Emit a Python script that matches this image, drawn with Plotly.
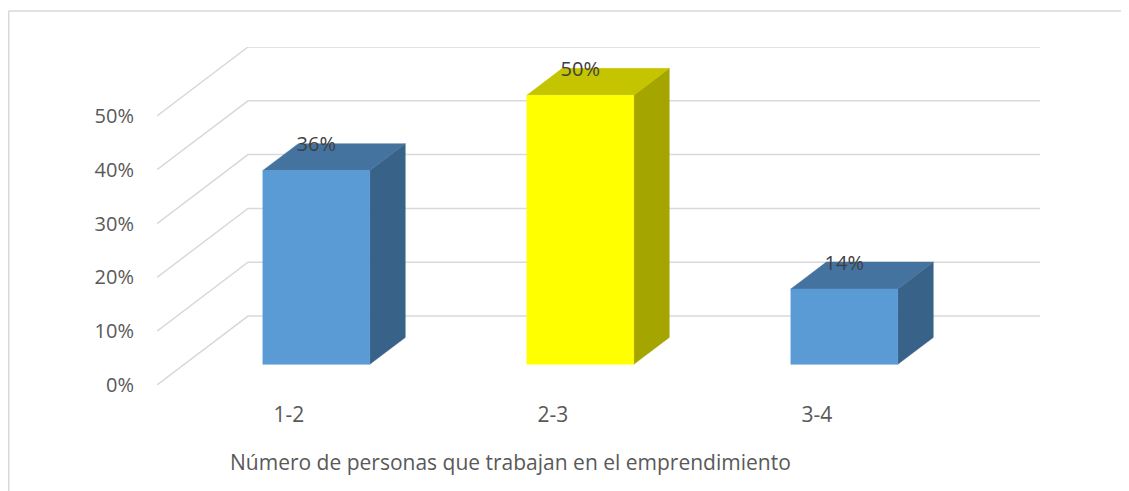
import plotly.graph_objects as go

# ---- data ----
categories = ["1-2", "2-3", "3-4"]
values = [0.36, 0.50, 0.14]
labels = ["36%", "50%", "14%"]
tick_vals = [0, 0.1, 0.2, 0.3, 0.4, 0.5]
tick_text = ["0%", "10%", "20%", "30%", "40%", "50%"]
axis_title = "Número de personas que trabajan en el emprendimiento"

# ---- oblique 3D projection parameters (style/geometry) ----
OFF = 8  # page body margin
W, H = 1129 - OFF, 491 - OFF
L, R, T, B = 157 - OFF, 89, 47 - OFF, 106
PW, PH = W - L - R, H - T - B
DX = 91 / 264.0       # depth shift in category units at full depth
DY = 69 / 538.5       # depth shift in value units at full depth
BAR_W = 0.405
D0, D1 = 0.30, 0.69
front_cols = ["#5B9BD5", "#FFFF00", "#5B9BD5"]
top_cols = ["#44739F", "#C4C400", "#44739F"]
side_cols = ["#386288", "#A5A500", "#386288"]
GRID = "#D9D9D9"
TXT = "#595959"
FONT = "Open Sans"


def P(x, v, d):
    return x + d * DX, v + d * DY


def px(xs):
    return (xs - OFF - L) / PW


def py(ys):
    return (H + OFF - B - ys) / PH


fig = go.Figure()

# gridlines: floor diagonal + back wall
for v in tick_vals:
    pts = [P(-0.5, v, 0), P(-0.5, v, 1), P(2.5, v, 1)]
    fig.add_trace(go.Scatter(x=[p[0] for p in pts], y=[p[1] for p in pts],
                             mode="lines", line=dict(color=GRID, width=1.5),
                             hoverinfo="skip", showlegend=False))


def poly(pts, color):
    xs = [p[0] for p in pts] + [pts[0][0]]
    ys = [p[1] for p in pts] + [pts[0][1]]
    fig.add_trace(go.Scatter(x=xs, y=ys, mode="lines", fill="toself",
                             fillcolor=color, line=dict(color=color, width=0.5),
                             hoverinfo="skip", showlegend=False))


for i, (cat, val) in enumerate(zip(categories, values)):
    xl, xr = i - BAR_W / 2, i + BAR_W / 2
    poly([P(xr, 0, D0), P(xr, 0, D1), P(xr, val, D1), P(xr, val, D0)], side_cols[i])
    poly([P(xl, val, D0), P(xr, val, D0), P(xr, val, D1), P(xl, val, D1)], top_cols[i])
    poly([P(xl, 0, D0), P(xr, 0, D0), P(xr, val, D0), P(xl, val, D0)], front_cols[i])

# data labels
fig.add_trace(go.Scatter(
    x=[i + D0 * DX for i in range(len(values))],
    y=[v + 0.65 * DY for v in values],
    mode="text", text=labels, textposition="middle center",
    textfont=dict(family=FONT, size=20, color="#404040"),
    hoverinfo="skip", showlegend=False))

fig.update_layout(
    width=W, height=H,
    margin=dict(l=L, r=R, t=T, b=B, pad=0),
    paper_bgcolor="white", plot_bgcolor="rgba(0,0,0,0)",
    font=dict(family=FONT, color=TXT, size=20),
    xaxis=dict(range=[-0.5, 2.5 + DX], tickmode="array",
               tickvals=list(range(len(categories))), ticktext=categories,
               showgrid=False, zeroline=False, showline=False,
               ticks="outside", ticklen=11, tickcolor="rgba(0,0,0,0)",
               tickfont=dict(family=FONT, size=21, color=TXT)),
    yaxis=dict(range=[0, 0.5 + DY], tickmode="array", tickvals=tick_vals,
               ticktext=tick_text, showgrid=False, zeroline=False, showline=False,
               ticks="outside", ticklen=18, tickcolor="rgba(0,0,0,0)",
               tickfont=dict(family=FONT, size=20, color=TXT)),
    annotations=[dict(text=axis_title, xref="paper", yref="paper",
                      x=px(510), y=py(462),
                      xanchor="center", yanchor="middle", showarrow=False,
                      font=dict(family=FONT, size=21, color=TXT))],
    shapes=[
        dict(type="line", xref="paper", yref="paper",
             x0=px(8.7), x1=px(1140), y0=py(11), y1=py(11),
             line=dict(color=GRID, width=1.5)),
        dict(type="line", xref="paper", yref="paper",
             x0=px(8.7), x1=px(8.7), y0=py(11), y1=py(500),
             line=dict(color=GRID, width=1.5)),
    ],
)

fig.write_html("out.html")
